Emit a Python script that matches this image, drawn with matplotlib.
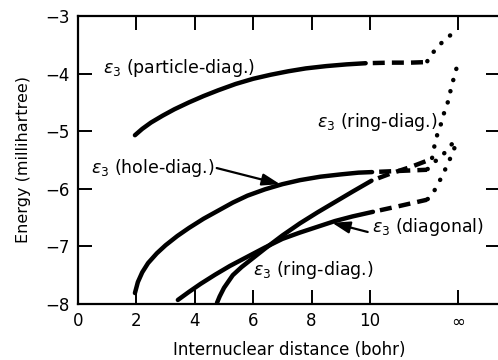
import numpy as np
import matplotlib.pyplot as plt

# x = 13 stands for the separated-atom limit (labelled with infinity)
x_ticks = [0, 2, 4, 6, 8, 10, 13]
x_tick_labels = ['0', '2', '4', '6', '8', '10', r'$\infty$']
y_ticks = [-8, -7, -6, -5, -4, -3]

# epsilon_3 (particle-diag.)
part_x = [1.95, 2.2, 2.5, 2.9, 3.3, 3.8, 4.3, 4.8, 5.4, 6.0, 6.6, 7.2, 7.8, 8.5, 9.2, 9.85]
part_y = [-5.07, -4.96, -4.85, -4.73, -4.62, -4.50, -4.39, -4.29, -4.18, -4.09,
          -4.02, -3.96, -3.91, -3.87, -3.84, -3.82]
part_dash_x = [9.85, 10.7, 11.4, 11.95]
part_dash_y = [-3.82, -3.81, -3.81, -3.80]
part_dot_x = [11.95, 12.02, 12.29, 12.53, 12.84, 12.95]
part_dot_y = [-3.80, -3.71, -3.56, -3.42, -3.30, -3.27]

# epsilon_3 (hole-diag.)
hole_x = [1.95, 2.05, 2.2, 2.4, 2.7, 3.0, 3.4, 3.8, 4.3, 4.8, 5.3, 5.8, 6.4, 7.0,
          7.6, 8.3, 9.0, 9.6, 10.07]
hole_y = [-7.81, -7.62, -7.45, -7.29, -7.12, -6.98, -6.82, -6.68, -6.52, -6.38,
          -6.24, -6.12, -6.01, -5.92, -5.85, -5.79, -5.75, -5.72, -5.71]
hole_dash_x = [10.07, 11.0, 11.95]
hole_dash_y = [-5.71, -5.69, -5.67]
hole_dot_x = [11.95, 12.16, 12.47, 12.71, 12.98]
hole_dot_y = [-5.67, -5.55, -5.43, -5.27, -5.14]

# epsilon_3 (diagonal)
diag_x = [3.42, 3.8, 4.2, 4.7, 5.2, 5.8, 6.4, 7.0, 7.6, 8.2, 8.8, 9.4, 10.10]
diag_y = [-7.93, -7.79, -7.65, -7.49, -7.34, -7.18, -7.02, -6.87, -6.76, -6.66,
          -6.56, -6.48, -6.40]
diag_dash_x = [10.10, 11.0, 11.95]
diag_dash_y = [-6.40, -6.30, -6.19]
diag_dot_x = [11.95, 12.12, 12.29, 12.47, 12.64, 12.81, 12.98]
diag_dot_y = [-6.19, -6.11, -5.95, -5.78, -5.59, -5.40, -5.17]

# epsilon_3 (ring-diag.)
ring_x = [4.76, 4.85, 5.0, 5.3, 5.6, 5.9, 6.4, 7.0, 7.6, 8.2, 8.8, 9.4, 10.05]
ring_y = [-7.98, -7.87, -7.72, -7.50, -7.36, -7.24, -7.04, -6.81, -6.60, -6.41,
          -6.23, -6.05, -5.86]
ring_dash_x = [10.05, 10.68, 11.4, 12.12]
ring_dash_y = [-5.86, -5.74, -5.62, -5.48]
ring_dot_x = [12.12, 12.23, 12.33, 12.47, 12.57, 12.71, 12.77, 12.88, 12.98]
ring_dot_y = [-5.48, -5.19, -5.01, -4.82, -4.61, -4.44, -4.25, -4.06, -3.87]

plt.rcParams['font.family'] = ['DejaVu Sans']
plt.rcParams['mathtext.fontset'] = 'dejavusans'

fig = plt.figure(figsize=(4.98, 3.6), dpi=100)
ax = fig.add_axes([0.1566, 0.1556, 0.8474, 0.8])

lw = 3.2
solid = dict(color='black', lw=lw, solid_capstyle='round', solid_joinstyle='round')
dashed = dict(color='black', lw=lw, linestyle=(2.7, (2.7, 1.6)), dash_capstyle='butt')
dotted = dict(color='black', lw=lw, linestyle=(2.4, (0.05, 2.55)), dash_capstyle='round')

curves = [
    (part_x, part_y, part_dash_x, part_dash_y, part_dot_x, part_dot_y),
    (hole_x, hole_y, hole_dash_x, hole_dash_y, hole_dot_x, hole_dot_y),
    (diag_x, diag_y, diag_dash_x, diag_dash_y, diag_dot_x, diag_dot_y),
    (ring_x, ring_y, ring_dash_x, ring_dash_y, ring_dot_x, ring_dot_y),
]
for sx, sy, dx, dy, ox, oy in curves:
    ax.plot(sx, sy, **solid)
    ax.plot(dx, dy, **dashed)
    ax.plot(ox, oy, **dotted)

fs = 12.5
ax.text(0.86, -3.90, r'$\epsilon_3$ (particle-diag.)', fontsize=fs, va='center')
ax.text(0.43, -5.64, r'$\epsilon_3$ (hole-diag.)', fontsize=fs, va='center')
ax.text(8.18, -4.84, r'$\epsilon_3$ (ring-diag.)', fontsize=fs, va='center')
ax.text(10.07, -6.67, r'$\epsilon_3$ (diagonal)', fontsize=fs, va='center')
ax.text(5.99, -7.41, r'$\epsilon_3$ (ring-diag.)', fontsize=fs, va='center')

arrow = dict(arrowstyle='-|>,head_length=0.9,head_width=0.3', color='black',
             lw=1.6, mutation_scale=12, shrinkA=0, shrinkB=0)
ax.annotate('', xy=(6.92, -5.92), xytext=(4.75, -5.64), arrowprops=arrow)
ax.annotate('', xy=(8.70, -6.59), xytext=(9.92, -6.75), arrowprops=arrow)

ax.set_xlim(0, 14.45)
ax.set_ylim(-8, -3)
ax.set_xticks(x_ticks)
ax.set_xticklabels(x_tick_labels)
ax.set_yticks(y_ticks)
ax.tick_params(direction='in', length=10, width=1.4, labelsize=12, pad=6,
               top=True, right=True)
for sp in ax.spines.values():
    sp.set_linewidth(1.6)

ax.set_xlabel('Internuclear distance (bohr)', fontsize=12, labelpad=8)
ax.set_ylabel('Energy (millihartree)', fontsize=11.5, labelpad=10)

fig.savefig('out.png', dpi=100)
